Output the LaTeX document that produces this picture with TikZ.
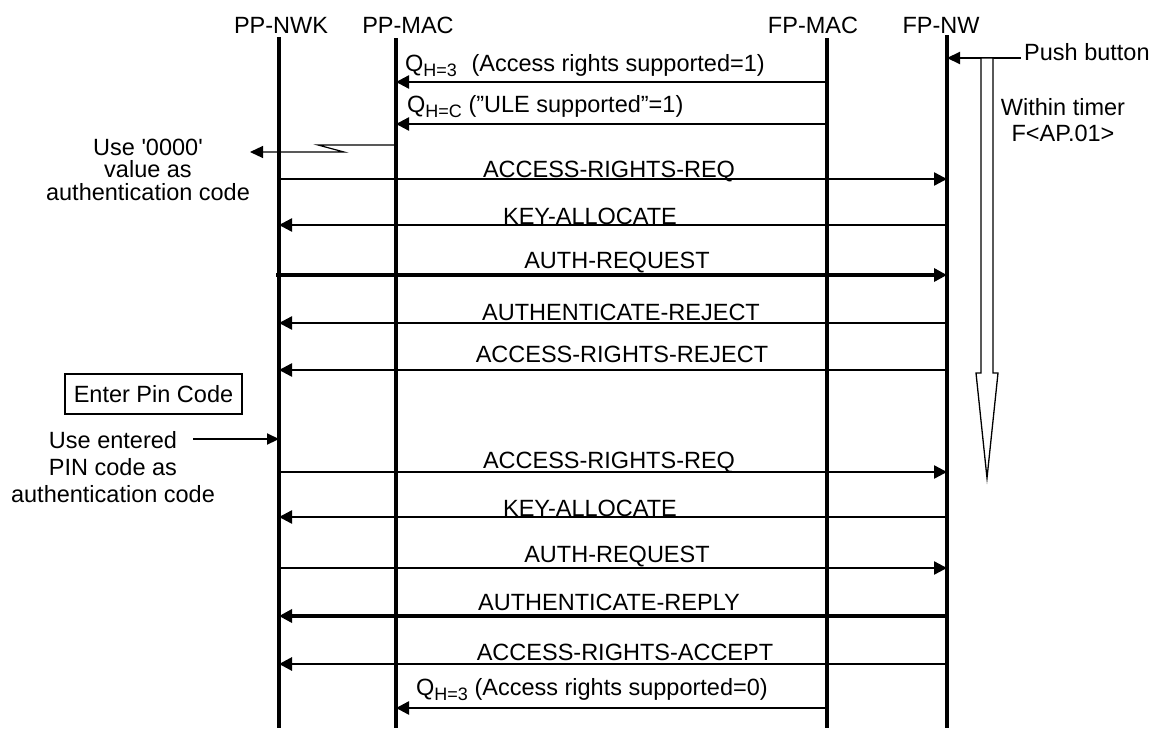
\documentclass[tikz,border=0pt]{standalone}
\usepackage{fontspec}
\setmainfont{Liberation Sans}
\usetikzlibrary{arrows.meta}
\newcommand{\subq}[1]{Q\raisebox{-5pt}{\fontsize{18}{18}\selectfont #1}}
\begin{document}
\begin{tikzpicture}[x=1pt,y=-1pt,
  lbl/.style={inner sep=0pt,font=\fontsize{23.5}{27}\selectfont},
  lifeline/.style={line width=3.2pt},
  msg/.style={line width=2.4pt,-{Triangle[length=13pt,width=13pt]}},
  thickmsg/.style={msg,line width=3.4pt},
  thinline/.style={line width=1.2pt}]
\useasboundingbox (0,0) rectangle (1156,728);
% lifeline heads
\node[lbl,anchor=base] (hNWK) at (281,33) {PP-NWK};
\node[lbl,anchor=base] (hPMAC) at (408,33) {PP-MAC};
\node[lbl,anchor=base] (hFMAC) at (813,33) {FP-MAC};
\node[lbl,anchor=base] (hFNW) at (941,33) {FP-NW};
\coordinate (nwk) at (279,37);  \coordinate (nwkB) at (279,728);
\coordinate (pmac) at (396,38); \coordinate (pmacB) at (396,728);
\coordinate (fmac) at (827,38); \coordinate (fmacB) at (827,728);
\coordinate (fnw) at (947,35);  \coordinate (fnwB) at (947,728);
\draw[lifeline] (nwk) -- (nwkB);
\draw[lifeline] (pmac) -- (pmacB);
\draw[lifeline] (fmac) -- (fmacB);
\draw[lifeline,line width=4pt] (fnw) -- (fnwB);
% message levels
\coordinate (y1) at (0,82);
\coordinate (y2) at (0,124);
\coordinate (y4) at (0,179);
\coordinate (y5) at (0,225);
\coordinate (y6) at (0,275);
\coordinate (y7) at (0,323);
\coordinate (y8) at (0,370);
\coordinate (y11) at (0,472);
\coordinate (y12) at (0,517);
\coordinate (y13) at (0,568);
\coordinate (y14) at (0,616);
\coordinate (y15) at (0,664);
\coordinate (y16) at (0,708);
% Q messages
\draw[msg] (fmac |- y1) -- (pmac |- y1);
\node[lbl,anchor=base west] (q1) at (405,71) {\subq{H=3}\hspace{8pt} (Access rights supported=1)};
\draw[msg] (fmac |- y2) -- (pmac |- y2);
\node[lbl,anchor=base west] (q2) at (407,112) {\subq{H=C} (”ULE supported”=1)};
% zigzag
\coordinate (z1) at (318,145);
\coordinate (z2) at (344,152);
\coordinate (z3) at (250,152);
\draw[thinline,-{Triangle[length=13pt,width=12pt]}] (pmac |- z1) -- (z1) -- (z2) -- (z3);
\node[lbl,anchor=base,align=center,font=\fontsize{23.5}{22.5}\selectfont] (use0) at (148,200) {Use \textquotesingle 0000\textquotesingle\\value as\\authentication code};
% first exchange
\draw[msg] (nwk |- y4) -- (fnw |- y4);
\node[lbl,anchor=base] (l4) at (609,177) {ACCESS-RIGHTS-REQ};
\draw[msg] (fnw |- y5) -- (nwk |- y5);
\node[lbl,anchor=base] (l5) at (590,224) {KEY-ALLOCATE};
\draw[thickmsg] ([xshift=-3pt]nwk |- y6) -- (fnw |- y6);
\node[lbl,anchor=base] (l6) at (617,268) {AUTH-REQUEST};
\draw[msg] (fnw |- y7) -- (nwk |- y7);
\node[lbl,anchor=base] (l7) at (621,320) {AUTHENTICATE-REJECT};
\draw[msg] (fnw |- y8) -- (nwk |- y8);
\node[lbl,anchor=base] (l8) at (622,362) {ACCESS-RIGHTS-REJECT};
% Enter pin code
\node[lbl,draw,line width=1.2pt,minimum width=177pt,minimum height=40pt] (pin) at (153.5,394) {Enter Pin Code};
\node[lbl,anchor=base,align=center,font=\fontsize{23.5}{27}\selectfont] (usepin) at (113,502) {Use entered\\PIN code as\\authentication code};
\coordinate (ua) at (193,439);
\draw[line width=2.2pt,-{Triangle[length=12pt,width=11pt]}] (ua) -- (nwk |- ua);
% second exchange
\draw[msg] (nwk |- y11) -- (fnw |- y11);
\node[lbl,anchor=base] (l11) at (609,468) {ACCESS-RIGHTS-REQ};
\draw[msg] (fnw |- y12) -- (nwk |- y12);
\node[lbl,anchor=base] (l12) at (590,516) {KEY-ALLOCATE};
\draw[msg] (nwk |- y13) -- (fnw |- y13);
\node[lbl,anchor=base] (l13) at (617,562) {AUTH-REQUEST};
\draw[thickmsg] (fnw |- y14) -- (nwk |- y14);
\node[lbl,anchor=base] (l14) at (609,610) {AUTHENTICATE-REPLY};
\draw[msg,line width=2.8pt] (fnw |- y15) -- (nwk |- y15);
\node[lbl,anchor=base] (l15) at (625,660) {ACCESS-RIGHTS-ACCEPT};
\draw[msg] (fmac |- y16) -- (pmac |- y16);
\node[lbl,anchor=base west] (q3) at (416,695) {\subq{H=3} (Access rights supported=0)};
% push button and timer
\node[lbl,anchor=base west] (push) at (1024,60) {Push button};
\coordinate (pb) at (1021,58);
\draw[line width=2.2pt,-{Triangle[length=13pt,width=12pt]}] (pb) -- (fnw |- pb);
\draw[line width=1.3pt,fill=white] (981,58) -- (981,373) -- (976,373) -- (987,478) -- (998,373) -- (993,373) -- (993,58) -- cycle;
\node[lbl,anchor=base,align=center,font=\fontsize{23.5}{26}\selectfont] (timer) at (1063,141) {Within timer\\F<AP.01>};
\end{tikzpicture}
\end{document}
